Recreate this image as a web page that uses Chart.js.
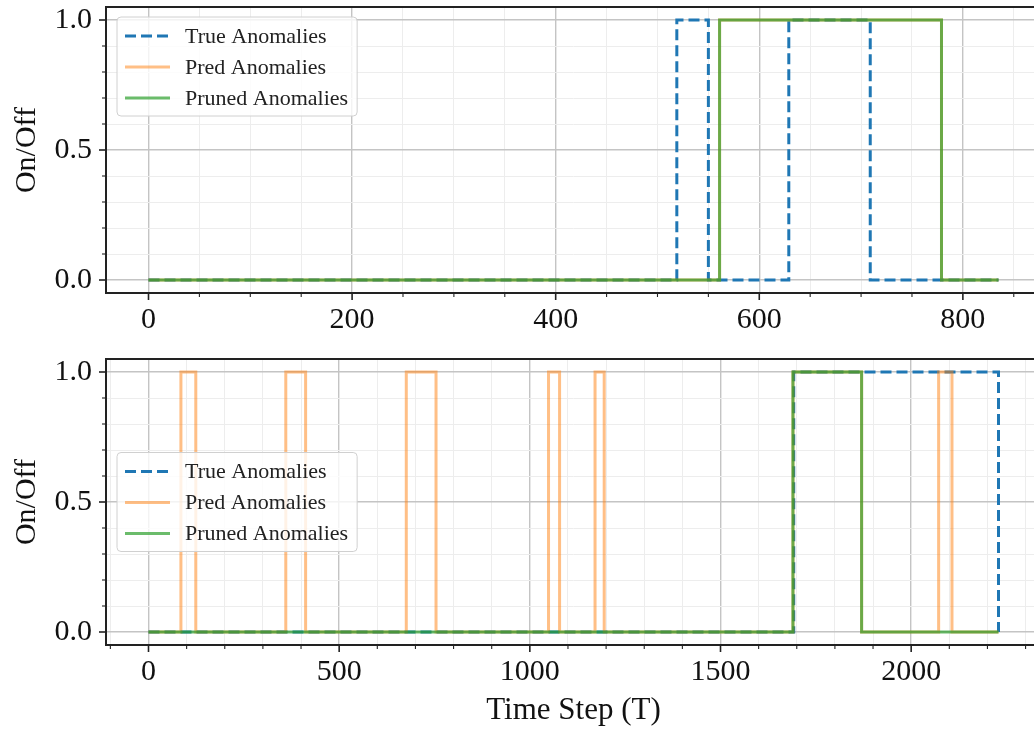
<!DOCTYPE html>
<html>
<head>
<meta charset="utf-8">
<title>Anomalies</title>
<script src="https://cdn.jsdelivr.net/npm/chart.js@4.4.1/dist/chart.umd.min.js"></script>
<style>
  html, body { margin: 0; padding: 0; background: #fff; overflow: hidden; width: 1034px; height: 731px; }
  .panel { position: absolute; left: 0; }
  #topPanel { top: 0; }
  #bottomPanel { top: 345px; }
</style>
</head>
<body>
<div class="panel" id="topPanel"><canvas id="topChart" width="1060" height="345"></canvas></div>
<div class="panel" id="bottomPanel"><canvas id="bottomChart" width="1060" height="386"></canvas></div>
<script>
// anomaly windows, [start, end] in time steps
const topSteps = 836;
const topTrue = [[519, 550], [629, 709]];
const topPred = [[561, 779]];
const topPruned = [[561, 779]];

const bottomSteps = 2230;
const bottomTrue = [[1692, 2229]];
const bottomPred = [[85, 124], [360, 412], [676, 754], [1049, 1078], [1171, 1195], [1690, 1870], [2072, 2107]];
const bottomPruned = [[1690, 1870]];

const seriesLabels = ['True Anomalies', 'Pred Anomalies', 'Pruned Anomalies'];
const topXTicks = [0, 200, 400, 600, 800];
const bottomXTicks = [0, 500, 1000, 1500, 2000];
const yTicks = [0, 0.5, 1];
const yMinorTicks = [0, 0.1, 0.2, 0.3, 0.4, 0.5, 0.6, 0.7, 0.8, 0.9, 1];

const SERIF = '"Liberation Serif", "DejaVu Serif", serif';
Chart.defaults.font.family = SERIF;
Chart.defaults.color = '#111';

const isMajor = (v, list) => list.some(m => Math.abs(m - v) < 1e-6);

// on/off series as change points, drawn with stepped lines
function toSteps(windows, steps) {
    const pts = [{ x: 0, y: 0 }];
    windows.forEach(([a, b]) => {
        pts.push({ x: a, y: 1 });
        pts.push({ x: b, y: 0 });
    });
    pts.push({ x: steps - 1, y: 0 });
    return pts;
}

function makeDatasets(trueW, predW, prunedW, steps) {
    return [
        {
            label: seriesLabels[0], data: toSteps(trueW, steps), order: 3,
            borderColor: '#1f77b4', borderWidth: 3, borderDash: [11, 5]
        },
        {
            label: seriesLabels[1], data: toSteps(predW, steps), order: 2,
            borderColor: 'rgba(255,127,14,0.5)', borderWidth: 3
        },
        {
            label: seriesLabels[2], data: toSteps(prunedW, steps), order: 1,
            borderColor: 'rgba(44,160,44,0.7)', borderWidth: 3
        }
    ];
}

// no extra room for half labels, the canvas layout is fixed
function noPadding(s) {
    s.paddingTop = 0;
    s.paddingBottom = 0;
    s.paddingLeft = 0;
    s.paddingRight = 0;
}

// axes box and outward tick marks
const frame = {
    id: 'frame',
    afterDraw(chart, args, opts) {
        const { ctx, chartArea: a, scales } = chart;
        ctx.save();
        ctx.strokeStyle = '#222';
        scales.x.ticks.forEach(t => {
            const major = isMajor(t.value, opts.xMajor);
            const px = scales.x.getPixelForValue(t.value);
            ctx.lineWidth = major ? 1.6 : 1.1;
            ctx.beginPath();
            ctx.moveTo(px, a.bottom);
            ctx.lineTo(px, a.bottom + (major ? 7 : 4));
            ctx.stroke();
        });
        scales.y.ticks.forEach(t => {
            const major = isMajor(t.value, yTicks);
            const py = scales.y.getPixelForValue(t.value);
            ctx.lineWidth = major ? 1.6 : 1.1;
            ctx.beginPath();
            ctx.moveTo(a.left, py);
            ctx.lineTo(a.left - (major ? 7 : 4), py);
            ctx.stroke();
        });
        ctx.lineWidth = 2;
        ctx.strokeRect(a.left, a.top, a.right - a.left, a.bottom - a.top);
        ctx.restore();
    }
};

// legend box inside the axes
const insideLegend = {
    id: 'insideLegend',
    afterDraw(chart, args, opts) {
        const { ctx, chartArea: a } = chart;
        const sets = chart.data.datasets;
        ctx.save();
        ctx.font = '22px ' + SERIF;
        const textW = Math.max(...sets.map(d => ctx.measureText(d.label).width));
        const w = 68 + textW + 9;
        const h = 99;
        const left = a.left + 11;
        const top = opts.place === 'center' ? (a.top + a.bottom) / 2 - h / 2 : a.top + 10;

        ctx.beginPath();
        ctx.roundRect(left, top, w, h, 4);
        ctx.fillStyle = 'rgba(255,255,255,0.8)';
        ctx.fill();
        ctx.strokeStyle = '#d0d0d0';
        ctx.lineWidth = 1;
        ctx.stroke();

        sets.forEach((d, i) => {
            const y = top + 19 + i * 31;
            ctx.beginPath();
            ctx.setLineDash(d.borderDash || []);
            ctx.strokeStyle = d.borderColor;
            ctx.lineWidth = d.borderWidth;
            ctx.moveTo(left + 8, y);
            ctx.lineTo(left + 53, y);
            ctx.stroke();
            ctx.setLineDash([]);
            ctx.fillStyle = '#222';
            ctx.textBaseline = 'middle';
            ctx.fillText(d.label, left + 68, y + 1);
        });
        ctx.restore();
    }
};

function makeChart(canvasId, datasets, steps, xTicks, xMinor, opts) {
    const span = steps - 1;
    return new Chart(document.getElementById(canvasId), {
        type: 'line',
        data: { datasets },
        options: {
            responsive: false,
            devicePixelRatio: 1,
            animation: false,
            layout: { padding: { top: opts.padTop, right: 19, left: 0, bottom: 0 } },
            elements: {
                point: { radius: 0 },
                line: { stepped: true, tension: 0, borderJoinStyle: 'miter', borderCapStyle: 'butt' }
            },
            plugins: {
                legend: { display: false },
                tooltip: { enabled: false },
                frame: { xMajor: xTicks },
                insideLegend: { place: opts.legendPlace }
            },
            scales: {
                x: {
                    type: 'linear',
                    min: -0.05 * span,
                    max: 1.05 * span,
                    afterFit: s => { s.height = opts.xHeight; noPadding(s); },
                    border: { display: false },
                    grid: {
                        drawTicks: false,
                        color: c => isMajor(c.tick.value, xTicks) ? '#c4c4c4' : '#ededed',
                        lineWidth: c => isMajor(c.tick.value, xTicks) ? 1.4 : 1
                    },
                    ticks: {
                        stepSize: xMinor,
                        includeBounds: false,
                        autoSkip: false,
                        maxRotation: 0,
                        padding: 9,
                        font: { size: 30 },
                        callback: v => isMajor(v, xTicks) ? String(v) : ''
                    },
                    title: {
                        display: opts.xTitle,
                        text: 'Time Step (T)',
                        font: { size: 31 },
                        padding: { top: 0, bottom: 2 }
                    }
                },
                y: {
                    min: -0.05,
                    max: 1.05,
                    afterBuildTicks: s => { s.ticks = yMinorTicks.map(v => ({ value: v })); },
                    afterFit: s => { s.width = 106; noPadding(s); },
                    border: { display: false },
                    grid: {
                        drawTicks: false,
                        color: c => isMajor(c.tick.value, yTicks) ? '#c4c4c4' : '#ededed',
                        lineWidth: c => isMajor(c.tick.value, yTicks) ? 1.4 : 1
                    },
                    ticks: {
                        autoSkip: false,
                        padding: 14,
                        font: { size: 30 },
                        callback: v => isMajor(v, yTicks) ? v.toFixed(1) : ''
                    },
                    title: {
                        display: true,
                        text: 'On/Off',
                        font: { size: 30 },
                        padding: { top: 9, bottom: 0 }
                    }
                }
            }
        },
        plugins: [frame, insideLegend]
    });
}

makeChart('topChart', makeDatasets(topTrue, topPred, topPruned, topSteps), topSteps, topXTicks, 50,
    { padTop: 7, xHeight: 52, xTitle: false, legendPlace: 'upper' });
makeChart('bottomChart', makeDatasets(bottomTrue, bottomPred, bottomPruned, bottomSteps), bottomSteps, bottomXTicks, 100,
    { padTop: 14, xHeight: 86, xTitle: true, legendPlace: 'center' });
</script>
</body>
</html>
